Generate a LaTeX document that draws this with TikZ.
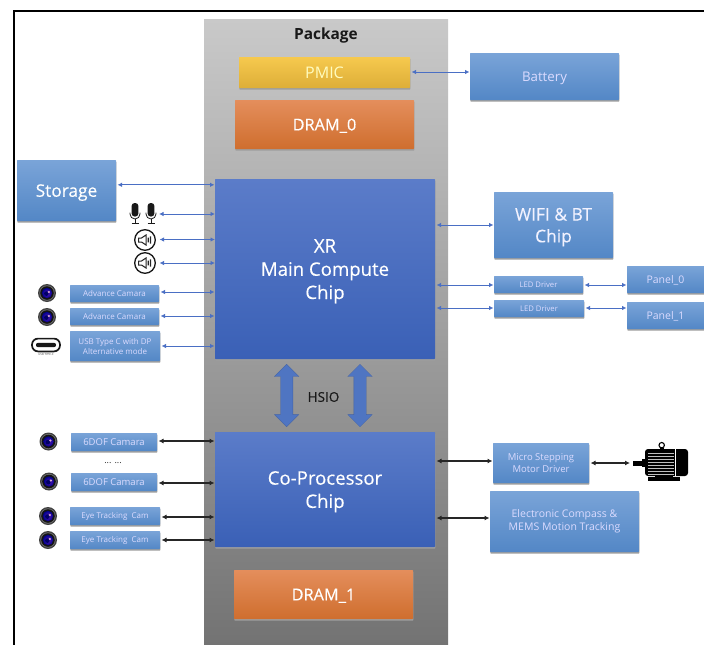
\documentclass[tikz,border=0pt]{standalone}
\usepackage{fontspec}
\setmainfont{Open Sans}
\newfontfamily\semi[FakeBold=0.3]{Open Sans}
\usetikzlibrary{shadows,shapes.arrows,arrows.meta,calc}
\definecolor{linkblue}{HTML}{4A6FC4}
\definecolor{hsioblue}{HTML}{4F75C2}
\definecolor{lbtop}{HTML}{7AA4D8}
\definecolor{lbbot}{HTML}{5387C6}
\definecolor{chiptop}{HTML}{5B7CC9}
\definecolor{chipbot}{HTML}{3A60B6}
\definecolor{pmtop}{HTML}{F6C94E}
\definecolor{pmbot}{HTML}{DDAE38}
\definecolor{drtop}{HTML}{E48E5C}
\definecolor{drbot}{HTML}{CF6E2E}
\definecolor{pktop}{HTML}{C9C9C9}
\definecolor{pkbot}{HTML}{737373}
\newdimen\fsd
\newcommand{\fs}[1]{\fsd=#1pt\relax\fsd=1.25\fsd\fontsize{#1}{\the\fsd}\selectfont}
\tikzset{
  base/.style={inner sep=0pt,outer sep=0pt,align=center,rounded corners=0.6pt,
     general shadow={fill=black!38,shadow xshift=0.4pt,shadow yshift=-1.6pt}},
  lightbox/.style={base,top color=lbtop,bottom color=lbbot,text=white!86!blue},
  chipbox/.style={base,top color=chiptop,bottom color=chipbot,text=white},
  pmicbox/.style={base,top color=pmtop,bottom color=pmbot,text=white!75!yellow},
  drambox/.style={base,top color=drtop,bottom color=drbot,text=white},
  flat/.style={text depth=0pt},
  bl/.style={linkblue,line width=1pt,{Latex[length=4.5pt,width=4.5pt]}-{Latex[length=4.5pt,width=4.5pt]}},
  bk/.style={black!85,line width=1.1pt,{Latex[length=5pt,width=5pt]}-{Latex[length=5pt,width=5pt]}},
  hsio/.style={double arrow,fill=hsioblue,draw=hsioblue!85!black,line width=0.3pt,rotate=90,
     minimum height=62.5pt,inner xsep=0pt,inner ysep=6pt,double arrow head extend=6pt,
     double arrow head indent=0pt},
  campic/.pic={
    \fill[black!75] (0,0) circle (9);
    \fill[black!55] (0,0) circle (7.6);
    \fill[black!92] (0,0) circle (6.8);
    \shade[inner color=violet!60!blue!90!white,outer color=blue!55!black] (0,0) circle (5.2);
    \fill[blue!40!black] (-0.6,0.6) circle (2.3);
    \fill[white!65!violet] (1.9,-1) circle (1.2);
  },
  micpic/.pic={
    \fill[black!90,rounded corners=3pt] (-3.4,-10) rectangle (3.4,3.5);
    \draw[black!90,line width=0.8pt] (-5,-0.5) -- (-5,1) arc[start angle=180,end angle=0,radius=5] -- (5,-0.5);
    \draw[black!90,line width=0.8pt] (0,6) -- (0,10) (-3.5,10) -- (3.5,10);
  },
  spkpic/.pic={
    \draw[black!90,line width=1.3pt,fill=white] (0,0) circle (10.3);
    \draw[black!85,line width=1pt] (-6.5,-2) -- (-3.5,-2) -- (1,-5) -- (1,5) -- (-3.5,2) -- (-6.5,2) -- cycle;
    \fill[black!85] (2.6,-2.3) rectangle (3.8,2.3) (4.8,-3.6) rectangle (6,3.6);
  },
  usbpic/.pic={
    \draw[black!90,line width=1.7pt,rounded corners=6pt] (-14,-6.4) rectangle (14,6.4);
    \fill[black!90,rounded corners=2pt] (-10,-2.2) rectangle (10,2.2);
    \node[font=\fontsize{2.8}{3}\selectfont,text=black!75,inner sep=0pt] at (0,9.8) {USB TYPE-C};
  },
  motorpic/.pic={
    \fill[black] (0,461) rectangle (9,465.5);
    \fill[black] (9,459) rectangle (12,467);
    \fill[black,rounded corners=3pt] (12,449) rectangle (55,476);
    \fill[black] (15,477) rectangle (47,480.5);
    \fill[black] (22,476) rectangle (40,477);
    \draw[black,line width=1.1pt] (28.7,445.2) circle (2.7);
    \fill[black] (26.5,447.5) rectangle (31,449);
    \draw[white,line width=0.5pt] (42.3,449) -- (42.3,476);
    \foreach \yy in {452.5,455.5,...,473.5} {\fill[white!75!black] (15,\yy) rectangle (41,\yy+1.1);}
  },
}
\newcommand{\bx}[7]{\node[#6,minimum width={(#4-#2)*1pt},minimum height={(#5-#3)*1pt}] (#1) at ({(#2+#4)/2},{(#3+#5)/2}) {#7};}
\newcommand{\hlink}[4]{\coordinate (ytmp) at (0,#3); \draw[#4] ([xshift=1.5pt]#1.east |- ytmp) -- ([xshift=-0.5pt]#2.west |- ytmp);}
\begin{document}
\begin{tikzpicture}[x=1pt,y=-1pt]
\useasboundingbox (0,0) rectangle (704,645);
\fill[white] (0,0) rectangle (704,645);
% package
\node[inner sep=0pt,outer sep=0pt,minimum width=244pt,minimum height=626pt,top color=pktop,bottom color=pkbot] (pkg) at (326,332) {};
% frame
\coordinate (ftl) at (14,11);
\coordinate (ftr) at (704,11);
\coordinate (fbl) at (14,645);
\draw[black,line width=1.6pt] (fbl) -- (ftl) -- (ftr);
\node[font=\bfseries\fs{15.4},text=black!90,inner sep=0pt,flat] (pkgl) at (326,34) {Package};
% boxes
\bx{pmic}{239}{57}{410}{88}{pmicbox,font=\fs{16}}{PMIC}
\bx{dram0}{235}{100}{414}{149}{drambox,flat,font=\semi\fs{16.3}}{DRAM\_0}
\bx{battery}{470}{53}{619}{100}{lightbox,flat,font=\fs{13.3}}{Battery}
\bx{storage}{17}{160}{116}{221}{lightbox,flat,text=white,font=\semi\fs{17.3}}{Storage}
\bx{xr}{215}{179}{435}{359}{chipbox,font=\semi\fs{18.6}}{\rule{0pt}{18pt}XR\\Main Compute\\Chip}
\bx{wifi}{494}{192}{613}{258}{lightbox,text=white!95!blue,font=\semi\fs{17.4}}{\rule{0pt}{17pt}WIFI \& BT\\Chip}
\bx{led0}{494}{276}{583}{293}{lightbox,font=\fs{7.7}}{LED Driver}
\bx{led1}{494}{300}{584}{317}{lightbox,font=\fs{7.7}}{LED Driver}
\bx{panel0}{627}{266}{710}{293}{lightbox,flat,font=\fs{10.5}}{\hspace*{-6pt}Panel\_0}
\bx{panel1}{627}{302}{710}{329}{lightbox,flat,font=\fs{10.5}}{\hspace*{-6pt}Panel\_1}
\bx{acam0}{70}{285}{159}{302}{lightbox,font=\fs{8}}{Advance Camara}
\bx{acam1}{70}{308}{159}{325}{lightbox,font=\fs{8}}{Advance Camara}
\bx{usbb}{70}{331}{160}{361}{lightbox,font=\fs{8}}{USB Type C with DP\\Alternative mode}
\bx{cop}{215}{432}{435}{547}{chipbox,font=\semi\fs{18.6}}{\rule{0pt}{18pt}Co-Processor\\Chip}
\bx{dof0}{71}{433}{157}{451}{lightbox,font=\fs{9.5}}{6DOF Camara}
\bx{dof1}{71}{473}{157}{491}{lightbox,font=\fs{9.5}}{6DOF Camara}
\bx{eye0}{70}{507}{160}{525}{lightbox,font=\fs{8}}{Eye Tracking\ \ Cam}
\bx{eye1}{70}{531}{160}{549}{lightbox,font=\fs{8}}{Eye Tracking\ \ Cam}
\bx{micro}{493}{443}{589}{483}{lightbox,font=\fs{9.5}}{Micro Stepping\\Motor Driver}
\bx{comp}{490}{491}{639}{552}{lightbox,font=\fs{10.5}}{Electronic Compass \&\\MEMS Motion Tracking}
\bx{dram1}{234}{570}{413}{619}{drambox,flat,font=\semi\fs{16.3}}{DRAM\_1}
% hsio
\node[hsio] (h0) at (286.7,395.5) {};
\node[hsio] (h1) at (360,395.5) {};
\node[font=\semi\fs{13.5},text=black!90,inner sep=0pt] (hl) at (323.5,397) {HSIO};
\node[font=\fs{9},text=black!80,inner sep=0pt] (dots) at (113,463) {... ...};
% icons
\path (135,213) pic {micpic} (151,213) pic {micpic};
\path (145,240) pic {spkpic} (145,263) pic {spkpic};
\path (47,293) pic {campic} (47,317) pic {campic};
\path (46,345) pic {usbpic};
\path (48.5,441.5) pic {campic} (49,481.5) pic {campic} (48,516) pic {campic} (48,540) pic {campic};
\path (633,0) pic {motorpic};
% named free ends
\coordinate (mice) at (159,214);
\coordinate (spk0) at (159.5,239.5);
\coordinate (spk1) at (159.5,263);
\coordinate (motw) at (630,463);
% connectors
\hlink{pmic}{battery}{72}{bl}
\hlink{storage}{xr}{184.8}{bl}
\draw[bl] (mice) -- (xr.west |- mice);
\draw[bl] (spk0) -- (xr.west |- spk0);
\draw[bl] (spk1) -- (xr.west |- spk1);
\hlink{acam0}{xr}{292}{bl}
\hlink{acam1}{xr}{316}{bl}
\hlink{usbb}{xr}{346}{bl}
\hlink{xr}{wifi}{225}{bl}
\hlink{xr}{led0}{285}{bl}
\hlink{xr}{led1}{308}{bl}
\hlink{led0}{panel0}{285}{bl}
\hlink{led1}{panel1}{308}{bl}
\hlink{dof0}{cop}{441}{bk}
\hlink{dof1}{cop}{483}{bk}
\hlink{eye0}{cop}{517}{bk}
\hlink{eye1}{cop}{540}{bk}
\hlink{cop}{micro}{461}{bk}
\hlink{cop}{comp}{518}{bk}
\draw[bk] ([xshift=1.5pt]micro.east |- motw) -- (motw);
\end{tikzpicture}
\end{document}
